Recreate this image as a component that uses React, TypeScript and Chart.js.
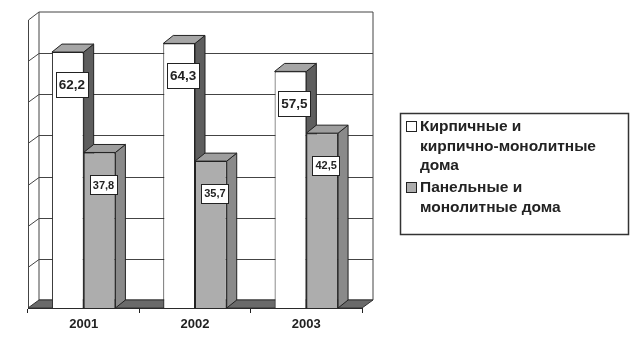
import React, { useEffect, useRef } from "react";
import { Chart, registerables } from "chart.js";
Chart.register(...registerables);

const years = ["2001", "2002", "2003"];
const brickValues = [62.2, 64.3, 57.5];
const panelValues = [37.8, 35.7, 42.5];
const seriesNames = ["Кирпичные и кирпично-монолитные дома", "Панельные и монолитные дома"];
const legendLines = [
  ["Кирпичные и", "кирпично-монолитные", "дома"],
  ["Панельные и", "монолитные дома"],
];
const yMax = 70;
const yStep = 10;

const FONT = "Arial, 'Liberation Sans', sans-serif";
const WALL_DX = 11;
const WALL_DY = -8;
const BAR_DX = 10;
const BAR_DY = -8;

const frontColors = ["#ffffff", "#adadad"];
const sideColors = ["#5e5e5e", "#8a8a8a"];
const topColors = ["#a6a6a6", "#9e9e9e"];

const poly = (ctx: CanvasRenderingContext2D, pts: number[][], fill: string, stroke: string) => {
  ctx.beginPath();
  ctx.moveTo(pts[0][0], pts[0][1]);
  for (let i = 1; i < pts.length; i++) ctx.lineTo(pts[i][0], pts[i][1]);
  ctx.closePath();
  ctx.fillStyle = fill;
  ctx.fill();
  ctx.strokeStyle = stroke;
  ctx.lineWidth = 1;
  ctx.stroke();
};

const threeD = {
  id: "threeD",
  beforeDatasetsDraw(chart: any) {
    const ctx: CanvasRenderingContext2D = chart.ctx;
    const { left, right, top, bottom } = chart.chartArea;
    const y = chart.scales.y;
    ctx.save();
    // back wall
    poly(ctx, [[left + WALL_DX, top + WALL_DY], [right + WALL_DX, top + WALL_DY], [right + WALL_DX, bottom + WALL_DY], [left + WALL_DX, bottom + WALL_DY]], "#ffffff", "#444");
    // grid lines
    ctx.strokeStyle = "#444";
    ctx.lineWidth = 1;
    for (let v = yStep; v < yMax; v += yStep) {
      const py = Math.round(y.getPixelForValue(v)) + 0.5;
      ctx.beginPath();
      ctx.moveTo(left, py);
      ctx.lineTo(left + WALL_DX, py + WALL_DY);
      ctx.lineTo(right + WALL_DX, py + WALL_DY);
      ctx.stroke();
    }
    // left wall
    ctx.beginPath();
    ctx.moveTo(left + 0.5, bottom);
    ctx.lineTo(left + 0.5, top);
    ctx.lineTo(left + WALL_DX, top + WALL_DY);
    ctx.stroke();
    // floor
    poly(ctx, [[left, bottom], [left + WALL_DX, bottom + WALL_DY], [right + WALL_DX, bottom + WALL_DY], [right, bottom]], "#6a6a6a", "#333");
    // bar sides and tops
    chart.data.datasets.forEach((_: any, di: number) => {
      const meta = chart.getDatasetMeta(di);
      meta.data.forEach((el: any) => {
        const x0 = el.x - el.width / 2;
        const x1 = el.x + el.width / 2;
        const ty = el.y;
        const b = el.base;
        poly(ctx, [[x1, ty], [x1 + BAR_DX, ty + BAR_DY], [x1 + BAR_DX, b + BAR_DY], [x1, b]], sideColors[di], "#222");
        poly(ctx, [[x0, ty], [x0 + BAR_DX, ty + BAR_DY], [x1 + BAR_DX, ty + BAR_DY], [x1, ty]], topColors[di], "#222");
      });
    });
    ctx.restore();
  },
  afterDatasetsDraw(chart: any) {
    const ctx: CanvasRenderingContext2D = chart.ctx;
    ctx.save();
    chart.data.datasets.forEach((ds: any, di: number) => {
      const meta = chart.getDatasetMeta(di);
      const size = di === 0 ? 13.5 : 11;
      const padX = 3;
      const h = di === 0 ? 25 : 19;
      ctx.font = `bold ${size}px ${FONT}`;
      meta.data.forEach((el: any, i: number) => {
        const txt = ds.data[i].toFixed(1).replace(".", ",");
        const w = ctx.measureText(txt).width + padX * 2;
        const cx = el.x + 4;
        const cy = el.y + 32;
        const bx = Math.round(cx - w / 2) + 0.5;
        const by = Math.round(cy - h / 2) + 0.5;
        ctx.fillStyle = "#fff";
        ctx.fillRect(bx, by, Math.round(w), h);
        ctx.strokeStyle = "#222";
        ctx.lineWidth = 1;
        ctx.strokeRect(bx, by, Math.round(w), h);
        ctx.fillStyle = "#222";
        ctx.textAlign = "center";
        ctx.textBaseline = "middle";
        ctx.fillText(txt, cx, cy + 1);
      });
    });
    ctx.restore();
  },
  afterDraw(chart: any) {
    const ctx: CanvasRenderingContext2D = chart.ctx;
    ctx.save();
    // legend box
    ctx.strokeStyle = "#333";
    ctx.lineWidth = 1.5;
    ctx.strokeRect(400.5, 113.5, 228, 121);
    ctx.font = `bold 15.5px ${FONT}`;
    ctx.textAlign = "left";
    ctx.textBaseline = "middle";
    const starts = [127, 188];
    legendLines.forEach((lines, di) => {
      const y0 = starts[di];
      ctx.fillStyle = frontColors[di];
      ctx.fillRect(406.5, y0 - 5.5, 10, 10);
      ctx.strokeStyle = "#222";
      ctx.lineWidth = 1;
      ctx.strokeRect(406.5, y0 - 5.5, 10, 10);
      ctx.fillStyle = "#222";
      lines.forEach((ln, li) => {
        ctx.fillText(ln, 420, y0 + li * 19.5);
      });
    });
    ctx.restore();
  },
};

export default function App() {
  const ref = useRef<HTMLCanvasElement>(null);
  useEffect(() => {
    if (!ref.current) return;
    const chart = new Chart(ref.current, {
      type: "bar",
      data: {
        labels: years,
        datasets: [
          { label: seriesNames[0], data: brickValues, backgroundColor: frontColors[0], borderColor: "#222", borderWidth: 1, categoryPercentage: 0.57, barPercentage: 1 },
          { label: seriesNames[1], data: panelValues, backgroundColor: frontColors[1], borderColor: "#222", borderWidth: 1, categoryPercentage: 0.57, barPercentage: 1 },
        ],
      },
      options: {
        responsive: false,
        animation: false,
        layout: { padding: { left: 28, right: 273, top: 20, bottom: 0 } },
        plugins: { legend: { display: false }, tooltip: { enabled: false } },
        scales: {
          x: {
            grid: { offset: true, drawOnChartArea: false, tickLength: 5, color: "#222" },
            border: { color: "#222" },
            ticks: { font: { family: FONT, weight: "bold", size: 13 }, color: "#222", padding: 4 },
            afterFit: (s: any) => { s.height = 34; },
          },
          y: { display: false, min: 0, max: yMax, ticks: { stepSize: yStep } },
        },
      },
      plugins: [threeD],
    });
    return () => chart.destroy();
  }, []);
  return (
    <div style={{ position: "absolute", left: 0, top: 0, width: 635, height: 342, background: "#fff" }}>
      <canvas ref={ref} width={635} height={342} style={{ width: 635, height: 342, display: "block" }} />
    </div>
  );
}
